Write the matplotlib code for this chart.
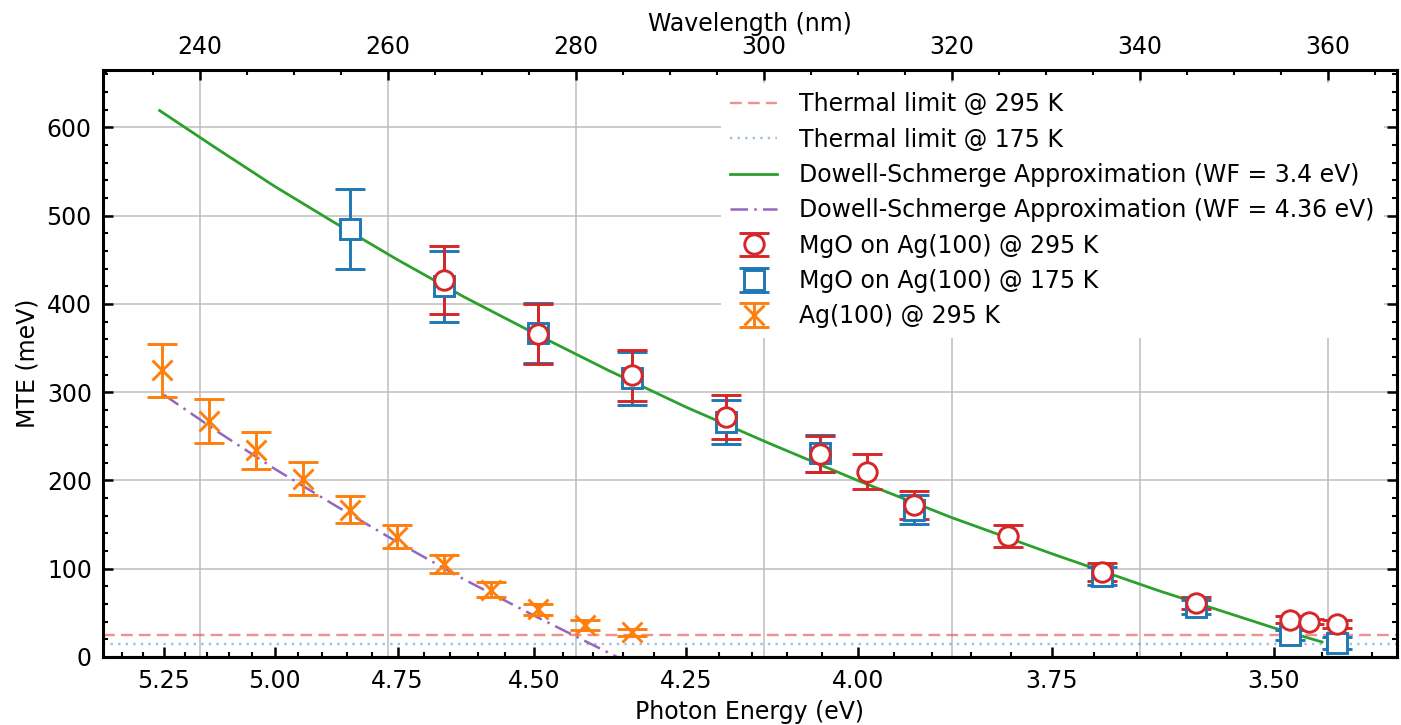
import numpy as np
import matplotlib
matplotlib.use("Agg")
import matplotlib.pyplot as plt
from matplotlib.ticker import MultipleLocator, FixedLocator, FormatStrFormatter

HC = 1239.84  # eV*nm

# Ag(100) @ 295 K
ag_nm = [236, 241, 246, 251, 256, 261, 266, 271, 276, 281, 286]
ag_mte = [325, 267, 234, 202, 167, 136, 105, 76, 54, 36, 28]
ag_err = [30, 25, 21, 19, 15, 13, 10, 8.5, 6.5, 5.5, 4]

# MgO on Ag(100) @ 295 K
mgo295_nm = [266, 276, 286, 296, 306, 311, 316, 326, 336, 346, 356, 358, 361]
mgo295_mte = [427, 366, 319, 272, 230, 210, 172, 137, 96, 61, 42, 40, 37]
mgo295_err = [39, 34, 29, 25, 20, 20, 16, 12.5, 10, 7, 4, 3, 4.5]

# MgO on Ag(100) @ 175 K
mgo175_nm = [256, 266, 276, 286, 296, 306, 316, 336, 346, 356, 361]
mgo175_mte = [485, 420, 367, 316, 266, 231, 167, 92, 57, 25, 16]
mgo175_err = [45, 40, 34, 30, 25, 21, 16, 10, 8, 6, 7]

# Dowell-Schmerge curves, photon energy (eV) vs MTE (meV)
ds34_ev = [5.26, 5.125, 5.00, 4.875, 4.75, 4.625, 4.50, 4.375, 4.25,
           4.125, 4.00, 3.875, 3.75, 3.625, 3.50, 3.45]
ds34_mte = [619, 575, 533, 492, 450, 408, 367, 325, 283,
            242, 200, 158, 117, 75, 33, 17]
ds436_ev = [5.25, 5.125, 5.00, 4.875, 4.75, 4.625, 4.50, 4.36]
ds436_mte = [297, 255, 213, 172, 130, 88, 47, 0]

# thermal limits kT (meV)
kt_295 = 25.4
kt_175 = 15.1

ev_ticks = [5.25, 5.00, 4.75, 4.50, 4.25, 4.00, 3.75, 3.50]


def nm_to_ev(x):
    x = np.asarray(x, dtype=float)
    with np.errstate(divide="ignore", invalid="ignore"):
        return HC / x


plt.rcParams.update({
    "font.family": "DejaVu Sans",
    "font.size": 17,
    "axes.linewidth": 2.2,
})

fig = plt.figure(figsize=(14.01, 7.25), dpi=100)
ax = fig.add_axes([0.0735, 0.0938, 0.9236, 0.8097])

ax.axhline(kt_295, color="#e8474a", alpha=0.6, lw=1.7, dashes=(5, 2.6),
           label="Thermal limit @ 295 K")
ax.axhline(kt_175, color="#1f77b4", alpha=0.45, lw=1.7, dashes=(1, 2.2),
           label="Thermal limit @ 175 K")
# eV -> nm uses the same conversion
ax.plot(nm_to_ev(ds34_ev), ds34_mte, color="#2ca02c", lw=2.0,
        label="Dowell-Schmerge Approximation (WF = 3.4 eV)")
ax.plot(nm_to_ev(ds436_ev), ds436_mte, color="#9467bd", lw=1.8,
        dashes=(7, 2.5, 1, 2.5),
        label="Dowell-Schmerge Approximation (WF = 4.36 eV)")

eb_kw = dict(ls="none", ms=14, mew=2.1, elinewidth=2.1, capsize=11, capthick=2.4)
h175 = ax.errorbar(mgo175_nm, mgo175_mte, yerr=mgo175_err, marker="s",
                   color="#1f77b4", mfc="white", label="MgO on Ag(100) @ 175 K", **eb_kw)
h295 = ax.errorbar(mgo295_nm, mgo295_mte, yerr=mgo295_err, marker="o",
                   color="#d62728", mfc="white", label="MgO on Ag(100) @ 295 K", **eb_kw)
hag = ax.errorbar(ag_nm, ag_mte, yerr=ag_err, marker="x",
                  color="#ff7f0e", label="Ag(100) @ 295 K", **eb_kw)

ax.set_xlim(229.68, 367.34)
ax.set_ylim(0, 665)

# wavelength on top, photon energy below
ax.xaxis.set_ticks_position("top")
ax.xaxis.set_label_position("top")
ax.set_xlabel("Wavelength (nm)", labelpad=3)
ax.set_ylabel("MTE (meV)", labelpad=5)
ax.xaxis.set_major_locator(MultipleLocator(20))
ax.xaxis.set_minor_locator(MultipleLocator(5))
ax.yaxis.set_major_locator(MultipleLocator(100))
ax.yaxis.set_minor_locator(MultipleLocator(20))
ax.tick_params(which="both", direction="in", top=True, bottom=False,
               left=True, right=True)
ax.tick_params(which="major", length=7, width=1.8, pad=8)
ax.tick_params(which="minor", length=3.6, width=1.5)
ax.grid(True, which="major", color="#bdbdbd", lw=1.1)
ax.set_axisbelow(True)

sec = ax.secondary_xaxis("bottom", functions=(nm_to_ev, nm_to_ev))
sec.xaxis.set_major_locator(FixedLocator(ev_ticks))
sec.xaxis.set_minor_locator(FixedLocator(np.arange(3.40, 5.40, 0.05)))
sec.xaxis.set_major_formatter(FormatStrFormatter("%.2f"))
sec.tick_params(which="both", direction="in")
sec.tick_params(which="major", length=7, width=1.8, pad=9)
sec.tick_params(which="minor", length=3.6, width=1.5)
sec.spines["bottom"].set_linewidth(2.2)
sec.set_xlabel("Photon Energy (eV)", labelpad=5)

line_handles = ax.get_lines()[:4]
leg = ax.legend(handles=line_handles + [h295, h175, hag], loc="upper right",
                frameon=True, framealpha=1, edgecolor="none", fancybox=False,
                labelspacing=0.48, handlelength=2.0, handletextpad=0.93,
                borderaxespad=0.55)

fig.savefig("out.png", dpi=100)
